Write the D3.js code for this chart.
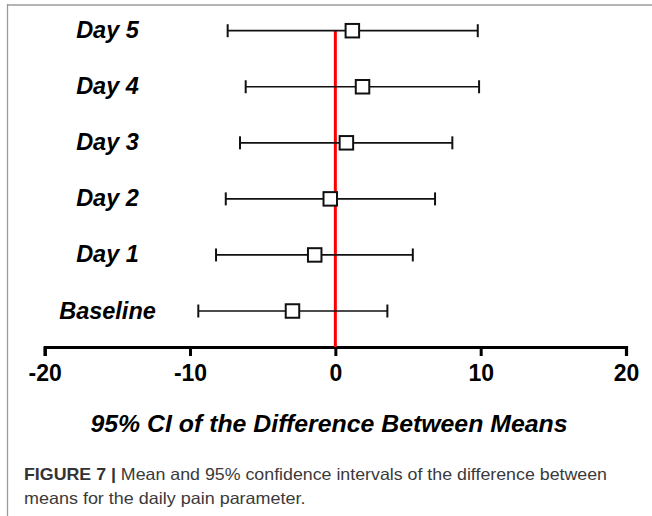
<!DOCTYPE html>
<html>
<head>
<meta charset="utf-8">
<script src="https://cdn.jsdelivr.net/npm/d3@7/dist/d3.min.js"></script>
<style>
  body { margin: 0; background: #fff; }
  svg { display: block; }
</style>
</head>
<body>
<svg id="chart" width="652" height="516"></svg>
<script>
const categories = ["Day 5", "Day 4", "Day 3", "Day 2", "Day 1", "Baseline"];
const means = [1.17, 1.87, 0.76, -0.35, -1.42, -2.95];
const lowerCI = [-7.41, -6.17, -6.56, -7.54, -8.21, -9.43];
const upperCI = [9.80, 9.89, 8.05, 6.86, 5.33, 3.58];
const xTicks = [-20, -10, 0, 10, 20];
const xTickLabels = ["-20", "-10", "0", "10", "20"];
const xTitle = "95% CI of the Difference Between Means";
const captionBold = "FIGURE 7 | ";
const captionLine1 = "Mean and 95% confidence intervals of the difference between";
const captionLine2 = "means for the daily pain parameter.";

const svg = d3.select("#chart");

// figure frame (top and left rule)
svg.append("line").attr("x1", 7.5).attr("x2", 652).attr("y1", 5).attr("y2", 5)
  .attr("stroke", "#b5b5b5").attr("stroke-width", 2);
svg.append("line").attr("x1", 7.5).attr("x2", 7.5).attr("y1", 4).attr("y2", 516)
  .attr("stroke", "#9a9a9a").attr("stroke-width", 1.3);

const x = d3.scaleLinear().domain([-20, 20]).range([44.7, 626]);
const y = d3.scalePoint().domain(categories).range([30.7, 311]);
const axisY = 347;

const data = categories.map((c, i) => ({ c, m: means[i], lo: lowerCI[i], hi: upperCI[i] }));

// x axis
const axis = d3.axisBottom(x).tickValues(xTicks).tickSize(9).tickSizeOuter(9).tickPadding(9)
  .tickFormat((d, i) => xTickLabels[i]);
const gAxis = svg.append("g").attr("transform", `translate(0,${axisY})`).call(axis);
gAxis.select(".domain").attr("stroke", "#000").attr("stroke-width", 3.2);
gAxis.selectAll(".tick line").attr("stroke", "#000").attr("stroke-width", 3);
gAxis.selectAll(".tick text")
  .attr("fill", "#000")
  .style("font-family", "'Liberation Sans', Arial, sans-serif")
  .style("font-weight", "bold")
  .style("font-size", "23px");

// zero reference line
svg.append("line")
  .attr("x1", x(0)).attr("x2", x(0))
  .attr("y1", y(categories[0])).attr("y2", axisY)
  .attr("stroke", "#ff0000").attr("stroke-width", 3);

// error bars
const g = svg.append("g");
g.selectAll("line.bar").data(data).enter().append("line")
  .attr("x1", d => x(d.lo)).attr("x2", d => x(d.hi))
  .attr("y1", d => y(d.c)).attr("y2", d => y(d.c))
  .attr("stroke", "#111").attr("stroke-width", 1.7);
g.selectAll("line.capL").data(data).enter().append("line")
  .attr("x1", d => x(d.lo)).attr("x2", d => x(d.lo))
  .attr("y1", d => y(d.c) - 6.5).attr("y2", d => y(d.c) + 6.5)
  .attr("stroke", "#111").attr("stroke-width", 2);
g.selectAll("line.capR").data(data).enter().append("line")
  .attr("x1", d => x(d.hi)).attr("x2", d => x(d.hi))
  .attr("y1", d => y(d.c) - 6.5).attr("y2", d => y(d.c) + 6.5)
  .attr("stroke", "#111").attr("stroke-width", 2);

const bs = 13.5;
g.selectAll("rect").data(data).enter().append("rect")
  .attr("x", d => x(d.m) - bs / 2).attr("y", d => y(d.c) - bs / 2)
  .attr("width", bs).attr("height", bs)
  .attr("fill", "#fff").attr("stroke", "#111").attr("stroke-width", 2);

// category labels
svg.selectAll("text.cat").data(data).enter().append("text")
  .attr("class", "cat")
  .attr("x", 107.5).attr("y", d => y(d.c) + 7.5)
  .attr("text-anchor", "middle")
  .style("font-family", "'Liberation Sans', Arial, sans-serif")
  .style("font-weight", "bold").style("font-style", "italic")
  .style("font-size", "23.5px")
  .attr("fill", "#000")
  .text(d => d.c);

// x title
svg.append("text")
  .attr("x", 329).attr("y", 432)
  .attr("text-anchor", "middle")
  .attr("textLength", 477).attr("lengthAdjust", "spacingAndGlyphs")
  .style("font-family", "'Liberation Sans', Arial, sans-serif")
  .style("font-weight", "bold").style("font-style", "italic")
  .style("font-size", "24px")
  .attr("fill", "#000")
  .text(xTitle);

// caption
const cap1 = svg.append("text").attr("x", 24).attr("y", 479.5)
  .attr("textLength", 583).attr("lengthAdjust", "spacingAndGlyphs")
  .style("font-family", "'Liberation Sans', Arial, sans-serif")
  .style("font-size", "16.5px").attr("fill", "#3a3a3a");
cap1.append("tspan").style("font-weight", "bold").attr("fill", "#333").text(captionBold);
cap1.append("tspan").text(captionLine1);
svg.append("text").attr("x", 24).attr("y", 503.5)
  .attr("textLength", 281.5).attr("lengthAdjust", "spacingAndGlyphs")
  .style("font-family", "'Liberation Sans', Arial, sans-serif")
  .style("font-size", "16.5px").attr("fill", "#3a3a3a")
  .text(captionLine2);
</script>
</body>
</html>
